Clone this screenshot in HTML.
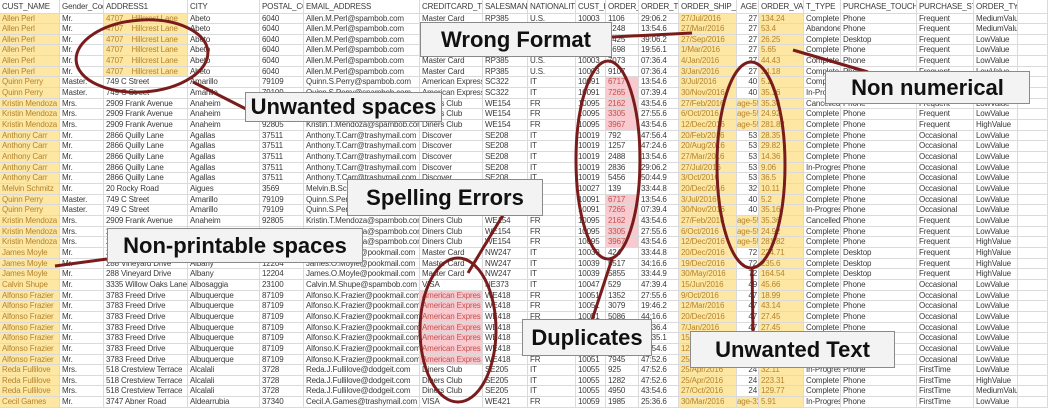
<!DOCTYPE html>
<html><head><meta charset="utf-8"><style>
html,body{margin:0;padding:0;background:#fff;}
#w{position:relative;width:1048px;height:408px;overflow:hidden;font-family:"Liberation Sans",sans-serif;font-size:8px;letter-spacing:-0.15px;color:#3a3a3a;}
.r{display:grid;grid-template-columns:60px 44px 84px 72px 44px 116px 63px 45px 48px 30px 33px 40px 58px 22px 45px 37px 76px 57px 44px 30px;height:10.67px;}
.h{height:13.5px;}
.r i{font-style:normal;border-right:1px solid #dadada;border-bottom:1px solid #dadada;white-space:nowrap;overflow:hidden;padding-left:2px;line-height:10px;box-sizing:border-box;}
.h i{line-height:13px;}
.r i:nth-child(14){text-align:right;padding-right:1px;padding-left:0}
.y{background:#fde7a3;color:#b5842e;}
.p{background:#f8c9ce;color:#c4524f;}
.box{position:absolute;background:#f3f3f3;border:1px solid #8a8a8a;font-weight:bold;font-size:22px;letter-spacing:0;color:#111;display:flex;align-items:center;justify-content:center;white-space:nowrap;box-sizing:border-box;}
svg{position:absolute;left:0;top:0;}
</style></head><body><div id="w">
<div class="r h"><i>CUST_NAME</i><i>Gender_Code</i><i>ADDRESS1</i><i>CITY</i><i>POSTAL_CODE</i><i>EMAIL_ADDRESS</i><i>CREDITCARD_TYPE</i><i>SALESMAN_ID</i><i>NATIONALITY</i><i>CUST_ID</i><i>ORDER_ID</i><i>ORDER_TIME</i><i>ORDER_SHIP_DATE</i><i>AGE</i><i>ORDER_VALUE</i><i>T_TYPE</i><i>PURCHASE_TOUCHPOINT</i><i>PURCHASE_STATUS</i><i>ORDER_TYPE</i><i></i></div>
<div class="r"><i class="y">Allen Perl</i><i>Mr.</i><i class="y">4707&nbsp;&nbsp;&nbsp; Hillcrest Lane</i><i>Abeto</i><i>6040</i><i>Allen.M.Perl@spambob.com</i><i>Master Card</i><i>RP385</i><i>U.S.</i><i>10003</i><i>1106</i><i>29:06.2</i><i class="y">27/Jul/2016</i><i>27</i><i class="y">134.24</i><i>Complete</i><i>Phone</i><i>Frequent</i><i>MediumValue</i><i></i></div>
<div class="r"><i class="y">Allen Perl</i><i>Mr.</i><i class="y">4707&nbsp;&nbsp;&nbsp; Hillcrest Lane</i><i>Abeto</i><i>6040</i><i>Allen.M.Perl@spambob.com</i><i>Master Card</i><i>RP385</i><i>U.S.</i><i>10003</i><i>2248</i><i>13:54.6</i><i class="y">27/Mar/2016</i><i>27</i><i class="y">53.4</i><i>Abandoned</i><i>Phone</i><i>Frequent</i><i>MediumValue</i><i></i></div>
<div class="r"><i class="y">Allen Perl</i><i>Mr.</i><i class="y">4707&nbsp;&nbsp;&nbsp; Hillcrest Lane</i><i>Abeto</i><i>6040</i><i>Allen.M.Perl@spambob.com</i><i>Master Card</i><i>RP385</i><i>U.S.</i><i>10003</i><i>3425</i><i>39:06.2</i><i class="y">27/Sep/2016</i><i>27</i><i class="y">26.25</i><i>Complete</i><i>Desktop</i><i>Frequent</i><i>LowValue</i><i></i></div>
<div class="r"><i class="y">Allen Perl</i><i>Mr.</i><i class="y">4707&nbsp;&nbsp;&nbsp; Hillcrest Lane</i><i>Abeto</i><i>6040</i><i>Allen.M.Perl@spambob.com</i><i>Master Card</i><i>RP385</i><i>U.S.</i><i>10003</i><i>5698</i><i>19:56.1</i><i class="y">1/Mar/2016</i><i>27</i><i class="y">5.65</i><i>Complete</i><i>Phone</i><i>Frequent</i><i>LowValue</i><i></i></div>
<div class="r"><i class="y">Allen Perl</i><i>Mr.</i><i class="y">4707&nbsp;&nbsp;&nbsp; Hillcrest Lane</i><i>Abeto</i><i>6040</i><i>Allen.M.Perl@spambob.com</i><i>Master Card</i><i>RP385</i><i>U.S.</i><i>10003</i><i>7073</i><i>07:36.4</i><i class="y">4/Jan/2016</i><i>27</i><i class="y">44.43</i><i>Complete</i><i>Phone</i><i>Frequent</i><i>LowValue</i><i></i></div>
<div class="r"><i class="y">Allen Perl</i><i>Mr.</i><i class="y">4707&nbsp;&nbsp;&nbsp; Hillcrest Lane</i><i>Abeto</i><i>6040</i><i>Allen.M.Perl@spambob.com</i><i>Master Card</i><i>RP385</i><i>U.S.</i><i>10003</i><i>9107</i><i>07:36.4</i><i class="y">3/Jan/2016</i><i>27</i><i class="y">24.18</i><i>Complete</i><i>Phone</i><i>Frequent</i><i>LowValue</i><i></i></div>
<div class="r"><i class="y">Quinn Perry</i><i>Master.</i><i>749 C Street</i><i>Amarillo</i><i>79109</i><i>Quinn.S.Perry@spambob.com</i><i>American Express</i><i>SC322</i><i>IT</i><i>10091</i><i class="p">6717</i><i>13:54.6</i><i class="y">3/Jul/2016</i><i>40</i><i class="y">5.2</i><i>Complete</i><i>Phone</i><i>Occasional</i><i>LowValue</i><i></i></div>
<div class="r"><i class="y">Quinn Perry</i><i>Master.</i><i>749 C Street</i><i>Amarillo</i><i>79109</i><i>Quinn.S.Perry@spambob.com</i><i>American Express</i><i>SC322</i><i>IT</i><i>10091</i><i class="p">7265</i><i>07:39.4</i><i class="y">30/Nov/2016</i><i>40</i><i class="y">35.16</i><i>In-Progress</i><i>Phone</i><i>Occasional</i><i>LowValue</i><i></i></div>
<div class="r"><i class="y">Kristin Mendoza</i><i>Mrs.</i><i>2909 Frank Avenue</i><i>Anaheim</i><i>92805</i><i>Kristin.T.Mendoza@spambob.com</i><i>Diners Club</i><i>WE154</i><i>FR</i><i>10095</i><i class="p">2162</i><i>43:54.6</i><i class="y">27/Feb/2016</i><i class="y">age-55</i><i class="y">35.36</i><i>Cancelled</i><i>Phone</i><i>Frequent</i><i>LowValue</i><i></i></div>
<div class="r"><i class="y">Kristin Mendoza</i><i>Mrs.</i><i>2909 Frank Avenue</i><i>Anaheim</i><i>92805</i><i>Kristin.T.Mendoza@spambob.com</i><i>Diners Club</i><i>WE154</i><i>FR</i><i>10095</i><i class="p">3305</i><i>27:55.6</i><i class="y">6/Oct/2016</i><i class="y">age-55</i><i class="y">24.92</i><i>Complete</i><i>Phone</i><i>Frequent</i><i>LowValue</i><i></i></div>
<div class="r"><i class="y">Kristin Mendoza</i><i>Mrs.</i><i>2909 Frank Avenue</i><i>Anaheim</i><i>92805</i><i>Kristin.T.Mendoza@spambob.com</i><i>Diners Club</i><i>WE154</i><i>FR</i><i>10095</i><i class="p">3967</i><i>43:54.6</i><i class="y">12/Dec/2016</i><i class="y">age-55</i><i class="y">281.82</i><i>Complete</i><i>Phone</i><i>Frequent</i><i>HighValue</i><i></i></div>
<div class="r"><i class="y">Anthony Carr</i><i>Mr.</i><i>2866 Quilly Lane</i><i>Agallas</i><i>37511</i><i>Anthony.T.Carr@trashymail.com</i><i>Discover</i><i>SE208</i><i>IT</i><i>10019</i><i>792</i><i>47:56.4</i><i class="y">20/Feb/2016</i><i>53</i><i class="y">28.35</i><i>Complete</i><i>Phone</i><i>Occasional</i><i>LowValue</i><i></i></div>
<div class="r"><i class="y">Anthony Carr</i><i>Mr.</i><i>2866 Quilly Lane</i><i>Agallas</i><i>37511</i><i>Anthony.T.Carr@trashymail.com</i><i>Discover</i><i>SE208</i><i>IT</i><i>10019</i><i>1257</i><i>47:24.6</i><i class="y">20/Aug/2016</i><i>53</i><i class="y">29.82</i><i>Complete</i><i>Phone</i><i>Occasional</i><i>LowValue</i><i></i></div>
<div class="r"><i class="y">Anthony Carr</i><i>Mr.</i><i>2866 Quilly Lane</i><i>Agallas</i><i>37511</i><i>Anthony.T.Carr@trashymail.com</i><i>Discover</i><i>SE208</i><i>IT</i><i>10019</i><i>2488</i><i>13:54.6</i><i class="y">27/Mar/2016</i><i>53</i><i class="y">14.36</i><i>Complete</i><i>Phone</i><i>Occasional</i><i>LowValue</i><i></i></div>
<div class="r"><i class="y">Anthony Carr</i><i>Mr.</i><i>2866 Quilly Lane</i><i>Agallas</i><i>37511</i><i>Anthony.T.Carr@trashymail.com</i><i>Discover</i><i>SE208</i><i>IT</i><i>10019</i><i>2836</i><i>29:06.2</i><i class="y">27/Jul/2016</i><i>53</i><i class="y">9.06</i><i>In-Progress</i><i>Phone</i><i>Occasional</i><i>LowValue</i><i></i></div>
<div class="r"><i class="y">Anthony Carr</i><i>Mr.</i><i>2866 Quilly Lane</i><i>Agallas</i><i>37511</i><i>Anthony.T.Carr@trashymail.com</i><i>Discover</i><i>SE208</i><i>IT</i><i>10019</i><i>5456</i><i>50:44.9</i><i class="y">3/Oct/2016</i><i>53</i><i class="y">36.5</i><i>Complete</i><i>Phone</i><i>Occasional</i><i>LowValue</i><i></i></div>
<div class="r"><i class="y">Melvin Schmitz</i><i>Mr.</i><i>20 Rocky Road</i><i>Aigues</i><i>3569</i><i>Melvin.B.Schmitz@spambob.com</i><i>Discover</i><i>SE208</i><i>IT</i><i>10027</i><i>139</i><i>33:44.8</i><i class="y">20/Dec/2016</i><i>32</i><i class="y">10.11</i><i>Complete</i><i>Phone</i><i>Occasional</i><i>LowValue</i><i></i></div>
<div class="r"><i class="y">Quinn Perry</i><i>Master.</i><i>749 C Street</i><i>Amarillo</i><i>79109</i><i>Quinn.S.Perry@spambob.com</i><i>American Express</i><i>SC322</i><i>IT</i><i>10091</i><i class="p">6717</i><i>13:54.6</i><i class="y">3/Jul/2016</i><i>40</i><i class="y">5.2</i><i>Complete</i><i>Phone</i><i>Occasional</i><i>LowValue</i><i></i></div>
<div class="r"><i class="y">Quinn Perry</i><i>Master.</i><i>749 C Street</i><i>Amarillo</i><i>79109</i><i>Quinn.S.Perry@spambob.com</i><i>American Express</i><i>SC322</i><i>IT</i><i>10091</i><i class="p">7265</i><i>07:39.4</i><i class="y">30/Nov/2016</i><i>40</i><i class="y">35.16</i><i>In-Progress</i><i>Phone</i><i>Occasional</i><i>LowValue</i><i></i></div>
<div class="r"><i class="y">Kristin Mendoza</i><i>Mrs.</i><i>2909 Frank Avenue</i><i>Anaheim</i><i>92805</i><i>Kristin.T.Mendoza@spambob.com</i><i>Diners Club</i><i>WE154</i><i>FR</i><i>10095</i><i class="p">2162</i><i>43:54.6</i><i class="y">27/Feb/2016</i><i class="y">age-55</i><i class="y">35.36</i><i>Cancelled</i><i>Phone</i><i>Frequent</i><i>LowValue</i><i></i></div>
<div class="r"><i class="y">Kristin Mendoza</i><i>Mrs.</i><i>2909 Frank Avenue</i><i>Anaheim</i><i>92805</i><i>Kristin.T.Mendoza@spambob.com</i><i>Diners Club</i><i>WE154</i><i>FR</i><i>10095</i><i class="p">3305</i><i>27:55.6</i><i class="y">6/Oct/2016</i><i class="y">age-55</i><i class="y">24.92</i><i>Complete</i><i>Phone</i><i>Frequent</i><i>LowValue</i><i></i></div>
<div class="r"><i class="y">Kristin Mendoza</i><i>Mrs.</i><i>2909 Frank Avenue</i><i>Anaheim</i><i>92805</i><i>Kristin.T.Mendoza@spambob.com</i><i>Diners Club</i><i>WE154</i><i>FR</i><i>10095</i><i class="p">3967</i><i>43:54.6</i><i class="y">12/Dec/2016</i><i class="y">age-55</i><i class="y">281.82</i><i>Complete</i><i>Phone</i><i>Frequent</i><i>HighValue</i><i></i></div>
<div class="r"><i class="y">James Moyle</i><i>Mr.</i><i>288 Vineyard Drive</i><i>Albany</i><i>12204</i><i>James.O.Moyle@pookmail.com</i><i>Master Card</i><i>NW247</i><i>IT</i><i>10039</i><i>424</i><i>33:44.8</i><i class="y">20/Dec/2016</i><i>72</i><i class="y">224.71</i><i>Complete</i><i>Desktop</i><i>Frequent</i><i>HighValue</i><i></i></div>
<div class="r"><i class="y">James Moyle</i><i>Mr.</i><i>288 Vineyard Drive</i><i>Albany</i><i>12204</i><i>James.O.Moyle@pookmail.com</i><i>Master Card</i><i>NW247</i><i>IT</i><i>10039</i><i>5517</i><i>34:16.6</i><i class="y">19/Dec/2016</i><i>72</i><i class="y">235.6</i><i>Complete</i><i>Desktop</i><i>Frequent</i><i>HighValue</i><i></i></div>
<div class="r"><i class="y">James Moyle</i><i>Mr.</i><i>288 Vineyard Drive</i><i>Albany</i><i>12204</i><i>James.O.Moyle@pookmail.com</i><i>Master Card</i><i>NW247</i><i>IT</i><i>10039</i><i>5855</i><i>33:44.9</i><i class="y">30/May/2016</i><i>72</i><i class="y">164.54</i><i>Complete</i><i>Desktop</i><i>Frequent</i><i>HighValue</i><i></i></div>
<div class="r"><i class="y">Calvin Shupe</i><i>Mr.</i><i>3335 Willow Oaks Lane</i><i>Albosaggia</i><i>23100</i><i>Calvin.M.Shupe@spambob.com</i><i>VISA</i><i>NE373</i><i>IT</i><i>10047</i><i>529</i><i>47:39.4</i><i class="y">15/Jun/2016</i><i>49</i><i class="y">45.66</i><i>Complete</i><i>Phone</i><i>Occasional</i><i>LowValue</i><i></i></div>
<div class="r"><i class="y">Alfonso Frazier</i><i>Mr.</i><i>3783 Freed Drive</i><i>Albuquerque</i><i>87109</i><i>Alfonso.K.Frazier@pookmail.com</i><i class="p">American Expres</i><i>WE418</i><i>FR</i><i>10051</i><i>1352</i><i>27:55.6</i><i class="y">9/Oct/2016</i><i>47</i><i class="y">18.99</i><i>Complete</i><i>Phone</i><i>Occasional</i><i>LowValue</i><i></i></div>
<div class="r"><i class="y">Alfonso Frazier</i><i>Mr.</i><i>3783 Freed Drive</i><i>Albuquerque</i><i>87109</i><i>Alfonso.K.Frazier@pookmail.com</i><i class="p">American Expres</i><i>WE418</i><i>FR</i><i>10051</i><i>3079</i><i>19:46.2</i><i class="y">12/Mar/2016</i><i>47</i><i class="y">43.14</i><i>Complete</i><i>Phone</i><i>Occasional</i><i>LowValue</i><i></i></div>
<div class="r"><i class="y">Alfonso Frazier</i><i>Mr.</i><i>3783 Freed Drive</i><i>Albuquerque</i><i>87109</i><i>Alfonso.K.Frazier@pookmail.com</i><i class="p">American Expres</i><i>WE418</i><i>FR</i><i>10051</i><i>5086</i><i>44:16.6</i><i class="y">20/Dec/2016</i><i>47</i><i class="y">27.45</i><i>Complete</i><i>Phone</i><i>Occasional</i><i>LowValue</i><i></i></div>
<div class="r"><i class="y">Alfonso Frazier</i><i>Mr.</i><i>3783 Freed Drive</i><i>Albuquerque</i><i>87109</i><i>Alfonso.K.Frazier@pookmail.com</i><i class="p">American Expres</i><i>WE418</i><i>FR</i><i>10051</i><i>6204</i><i>36:36.4</i><i class="y">7/Jan/2016</i><i>47</i><i class="y">27.45</i><i>Complete</i><i>Phone</i><i>Occasional</i><i>LowValue</i><i></i></div>
<div class="r"><i class="y">Alfonso Frazier</i><i>Mr.</i><i>3783 Freed Drive</i><i>Albuquerque</i><i>87109</i><i>Alfonso.K.Frazier@pookmail.com</i><i class="p">American Expres</i><i>WE418</i><i>FR</i><i>10051</i><i>6858</i><i>45:35.1</i><i class="y">15/Jun/2016</i><i>47</i><i class="y">27.45</i><i>Complete</i><i>Phone</i><i>Occasional</i><i>LowValue</i><i></i></div>
<div class="r"><i class="y">Alfonso Frazier</i><i>Mr.</i><i>3783 Freed Drive</i><i>Albuquerque</i><i>87109</i><i>Alfonso.K.Frazier@pookmail.com</i><i class="p">American Expres</i><i>WE418</i><i>FR</i><i>10051</i><i>7302</i><i>43:54.6</i><i class="y">12/Dec/2016</i><i>47</i><i class="y">27.45</i><i>Complete</i><i>Phone</i><i>Occasional</i><i>LowValue</i><i></i></div>
<div class="r"><i class="y">Alfonso Frazier</i><i>Mr.</i><i>3783 Freed Drive</i><i>Albuquerque</i><i>87109</i><i>Alfonso.K.Frazier@pookmail.com</i><i class="p">American Expres</i><i>WE418</i><i>FR</i><i>10051</i><i>7945</i><i>47:52.6</i><i class="y">25/Apr/2016</i><i>47</i><i class="y">27.45</i><i>Complete</i><i>Phone</i><i>Occasional</i><i>LowValue</i><i></i></div>
<div class="r"><i class="y">Reda Fullilove</i><i>Mrs.</i><i>518 Crestview Terrace</i><i>Alcalali</i><i>3728</i><i>Reda.J.Fullilove@dodgeit.com</i><i>Diners Club</i><i>SE205</i><i>IT</i><i>10055</i><i>925</i><i>47:52.6</i><i class="y">25/Apr/2016</i><i>24</i><i class="y">32.11</i><i>In-Progress</i><i>Phone</i><i>FirstTime</i><i>LowValue</i><i></i></div>
<div class="r"><i class="y">Reda Fullilove</i><i>Mrs.</i><i>518 Crestview Terrace</i><i>Alcalali</i><i>3728</i><i>Reda.J.Fullilove@dodgeit.com</i><i>Diners Club</i><i>SE205</i><i>IT</i><i>10055</i><i>1282</i><i>47:52.6</i><i class="y">25/Apr/2016</i><i>24</i><i class="y">223.31</i><i>Complete</i><i>Phone</i><i>FirstTime</i><i>HighValue</i><i></i></div>
<div class="r"><i class="y">Reda Fullilove</i><i>Mrs.</i><i>518 Crestview Terrace</i><i>Alcalali</i><i>3728</i><i>Reda.J.Fullilove@dodgeit.com</i><i>Diners Club</i><i>SE205</i><i>IT</i><i>10055</i><i>4950</i><i>43:54.6</i><i class="y">27/Oct/2016</i><i>24</i><i class="y">129.77</i><i>Complete</i><i>Phone</i><i>FirstTime</i><i>MediumValue</i><i></i></div>
<div class="r"><i class="y">Cecil Games</i><i>Mr.</i><i>3747 Abner Road</i><i>Aldearrubia</i><i>37340</i><i>Cecil.A.Games@trashymail.com</i><i>VISA</i><i>WE421</i><i>FR</i><i>10059</i><i>1985</i><i>25:36.6</i><i class="y">30/Mar/2016</i><i class="y">age-32</i><i class="y">5.91</i><i>In-Progress</i><i>Phone</i><i>FirstTime</i><i>LowValue</i><i></i></div>

<svg width="1048" height="408" viewBox="0 0 1048 408">
<g fill="none" stroke="#7a1c1c" stroke-width="3">
<ellipse cx="142" cy="56" rx="66" ry="36" transform="rotate(-4 142 56)"/>
<line x1="193" y1="82" x2="248" y2="110"/>
<line x1="612" y1="37" x2="692" y2="33"/>
<line x1="793" y1="50" x2="868" y2="72"/>
<ellipse cx="608" cy="160" rx="32" ry="99"/>
<line x1="612" y1="259" x2="592" y2="320"/>
<ellipse cx="751" cy="165" rx="34" ry="103"/>
<line x1="752" y1="267" x2="753" y2="331"/>
<ellipse cx="458" cy="330" rx="38" ry="72"/>
<line x1="503" y1="215" x2="468" y2="273"/>
<line x1="55" y1="266" x2="107" y2="259"/>
</g>
</svg>
<div class="box" style="left:420px;top:22px;width:192px;height:35px;">Wrong Format</div>
<div class="box" style="left:245px;top:92px;width:197px;height:30px;">Unwanted spaces</div>
<div class="box" style="left:825px;top:71px;width:205px;height:33px;">Non numerical</div>
<div class="box" style="left:347px;top:179px;width:196px;height:37px;">Spelling Errors</div>
<div class="box" style="left:107px;top:228px;width:256px;height:35px;">Non-printable spaces</div>
<div class="box" style="left:522px;top:319px;width:130px;height:37px;">Duplicates</div>
<div class="box" style="left:690px;top:331px;width:205px;height:37px;">Unwanted Text</div>
</div></body></html>
